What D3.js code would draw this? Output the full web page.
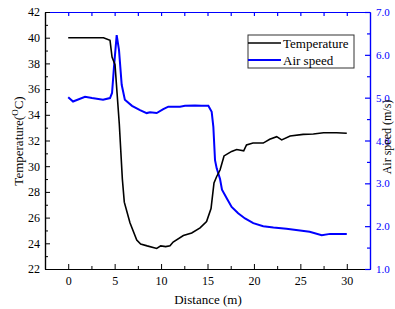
<!DOCTYPE html>
<html>
<head>
<meta charset="utf-8">
<script src="https://cdn.jsdelivr.net/npm/d3@7"></script>
<style>
  body { margin: 0; background: #fff; }
  svg { display: block; }
  svg text { font-family: "Times New Roman", "Liberation Serif", "DejaVu Serif", serif !important; }
</style>
</head>
<body>
<svg width="395" height="309"></svg>
<script>
// values
var tempDist = [0, 1, 2, 3, 3.8, 4.5, 4.72, 5.04, 5.26, 5.5, 5.83, 6.04, 6.65, 7.38, 7.8, 8.5, 9.53, 9.96, 10.5, 10.96, 11.3, 12.4, 13.3, 14.2, 14.9, 15.38, 15.7, 15.99, 16.35, 16.78, 17.24, 17.6, 18.14, 18.9, 19.2, 19.9, 21.0, 21.7, 22.45, 22.99, 23.9, 25.3, 26.4, 27.5, 28.2, 28.9, 30];
var tempVals = [40.0, 40.0, 40.0, 40.0, 40.0, 39.8, 38.5, 37.9, 35.7, 33.3, 29.0, 27.2, 25.6, 24.26, 23.95, 23.8, 23.6, 23.8, 23.74, 23.8, 24.1, 24.6, 24.8, 25.2, 25.7, 26.7, 28.7, 29.2, 29.7, 30.8, 31.0, 31.15, 31.3, 31.2, 31.65, 31.8, 31.8, 32.1, 32.3, 32.05, 32.35, 32.48, 32.5, 32.6, 32.6, 32.6, 32.56];

var speedDist = [0, 0.52, 1.81, 2.56, 3.75, 4.5, 4.72, 4.93, 5.22, 5.47, 5.76, 6.1, 6.87, 7.73, 8.45, 8.81, 9.53, 10.24, 10.78, 12.04, 12.58, 13.65, 14.38, 15.09, 15.45, 15.63, 15.81, 15.99, 16.35, 16.56, 17.07, 17.6, 18.3, 19.04, 19.93, 21.0, 22.1, 23.5, 26.0, 27.3, 28.2, 30];
var speedVals = [5.01, 4.91, 5.02, 4.99, 4.95, 4.99, 5.11, 5.72, 6.46, 6.11, 5.3, 4.95, 4.81, 4.71, 4.64, 4.66, 4.64, 4.73, 4.79, 4.79, 4.81, 4.82, 4.81, 4.81, 4.67, 4.32, 3.54, 3.35, 3.1, 2.85, 2.65, 2.45, 2.3, 2.18, 2.07, 2.0, 1.97, 1.94, 1.87, 1.79, 1.82, 1.82];

var xTicks = [0, 5, 10, 15, 20, 25, 30];
var tempTicks = [22, 24, 26, 28, 30, 32, 34, 36, 38, 40, 42];
var speedTicks = [1, 2, 3, 4, 5, 6, 7];
var seriesNames = ["Temperature", "Air speed"];
var seriesColors = ["#000", "#0000ff"];

var svg = d3.select("svg");
var pL = 45, pR = 370, pT = 12, pB = 269;

var x = d3.scaleLinear().domain([-2.5, 32.5]).range([pL, pR]);
var yT = d3.scaleLinear().domain([22, 42]).range([pB, pT]);
var yS = d3.scaleLinear().domain([1, 7]).range([pB, pT]);

// minor ticks sit halfway between majors
function minors(ticks, step) {
  return ticks.slice(0, -1).map(function(t) { return t + step / 2; });
}
var xMinor = minors(xTicks, 5);

// bottom axis
var gb = svg.append("g").attr("transform", "translate(0," + pB + ")");
gb.call(d3.axisBottom(x).tickValues(xTicks).tickSizeInner(-5).tickSizeOuter(0).tickPadding(7));
gb.append("g").call(d3.axisBottom(x).tickValues(xMinor).tickSizeInner(-3).tickSizeOuter(0).tickFormat(""));
gb.selectAll("path.domain").attr("stroke", "#000").attr("stroke-width", 1.2);
gb.selectAll("text").attr("font-size", 12).attr("fill", "#000");

// top axis (blue)
var gt = svg.append("g").attr("transform", "translate(0," + pT + ")");
gt.call(d3.axisTop(x).tickValues(xTicks.concat(xMinor)).tickSizeInner(-4).tickSizeOuter(0).tickFormat(""));
gt.selectAll("path.domain, line").attr("stroke", "#0000ff").attr("stroke-width", 1.2);

// left axis
var gl = svg.append("g").attr("transform", "translate(" + pL + ",0)");
gl.call(d3.axisLeft(yT).tickValues(tempTicks).tickSizeInner(-5).tickSizeOuter(0).tickPadding(5));
gl.append("g").call(d3.axisLeft(yT).tickValues(minors(tempTicks, 2)).tickSizeInner(-3).tickSizeOuter(0).tickFormat(""));
gl.selectAll("path.domain").attr("stroke", "#000").attr("stroke-width", 1.2);
gl.selectAll("text").attr("font-size", 12).attr("fill", "#000");

// right axis (blue)
var gr = svg.append("g").attr("transform", "translate(" + pR + ",0)");
gr.call(d3.axisRight(yS).tickValues(speedTicks).tickSizeInner(-5).tickSizeOuter(0).tickPadding(6));
gr.append("g").call(d3.axisRight(yS).tickValues(minors(speedTicks, 1)).tickSizeInner(-3).tickSizeOuter(0).tickFormat(""));
gr.selectAll("path.domain, line").attr("stroke", "#0000ff").attr("stroke-width", 1.2);
gr.selectAll("text").attr("font-size", 11).attr("fill", "#0000ff");

// lines
var tempLine = d3.line().x(function(d, i) { return x(tempDist[i]); }).y(function(d) { return yT(d); });
var speedLine = d3.line().x(function(d, i) { return x(speedDist[i]); }).y(function(d) { return yS(d); });

svg.append("path").attr("d", speedLine(speedVals))
  .attr("fill", "none").attr("stroke", seriesColors[1]).attr("stroke-width", 2);
svg.append("path").attr("d", tempLine(tempVals))
  .attr("fill", "none").attr("stroke", seriesColors[0]).attr("stroke-width", 1.6);

// axis titles
svg.append("text").attr("x", 208).attr("y", 304).attr("text-anchor", "middle")
  .attr("font-size", 13).attr("fill", "#000").text("Distance (m)");

var lt = svg.append("text").attr("transform", "translate(23,141) rotate(-90)")
  .attr("text-anchor", "middle").attr("font-size", 13).attr("fill", "#000");
lt.append("tspan").text("Temperature(");
lt.append("tspan").attr("dy", -5).attr("font-size", 9).text("O");
lt.append("tspan").attr("dy", 5).text("C)");

svg.append("text").attr("transform", "translate(391,137) rotate(-90)")
  .attr("text-anchor", "middle").attr("font-size", 12).attr("fill", "#000").text("Air speed (m/s)");

// legend
var lg = svg.append("g");
lg.append("rect").attr("x", 248).attr("y", 35).attr("width", 106).attr("height", 33)
  .attr("fill", "#fff").attr("stroke", "#333").attr("stroke-width", 1);
seriesNames.forEach(function(n, i) {
  var yy = 43 + i * 17;
  lg.append("line").attr("x1", 248).attr("x2", 281).attr("y1", yy).attr("y2", yy)
    .attr("stroke", seriesColors[i]).attr("stroke-width", i ? 2 : 1.6);
  lg.append("text").attr("x", 283).attr("y", yy + 4.5).attr("font-size", 13).attr("fill", "#000").text(n);
});
</script>
</body>
</html>
